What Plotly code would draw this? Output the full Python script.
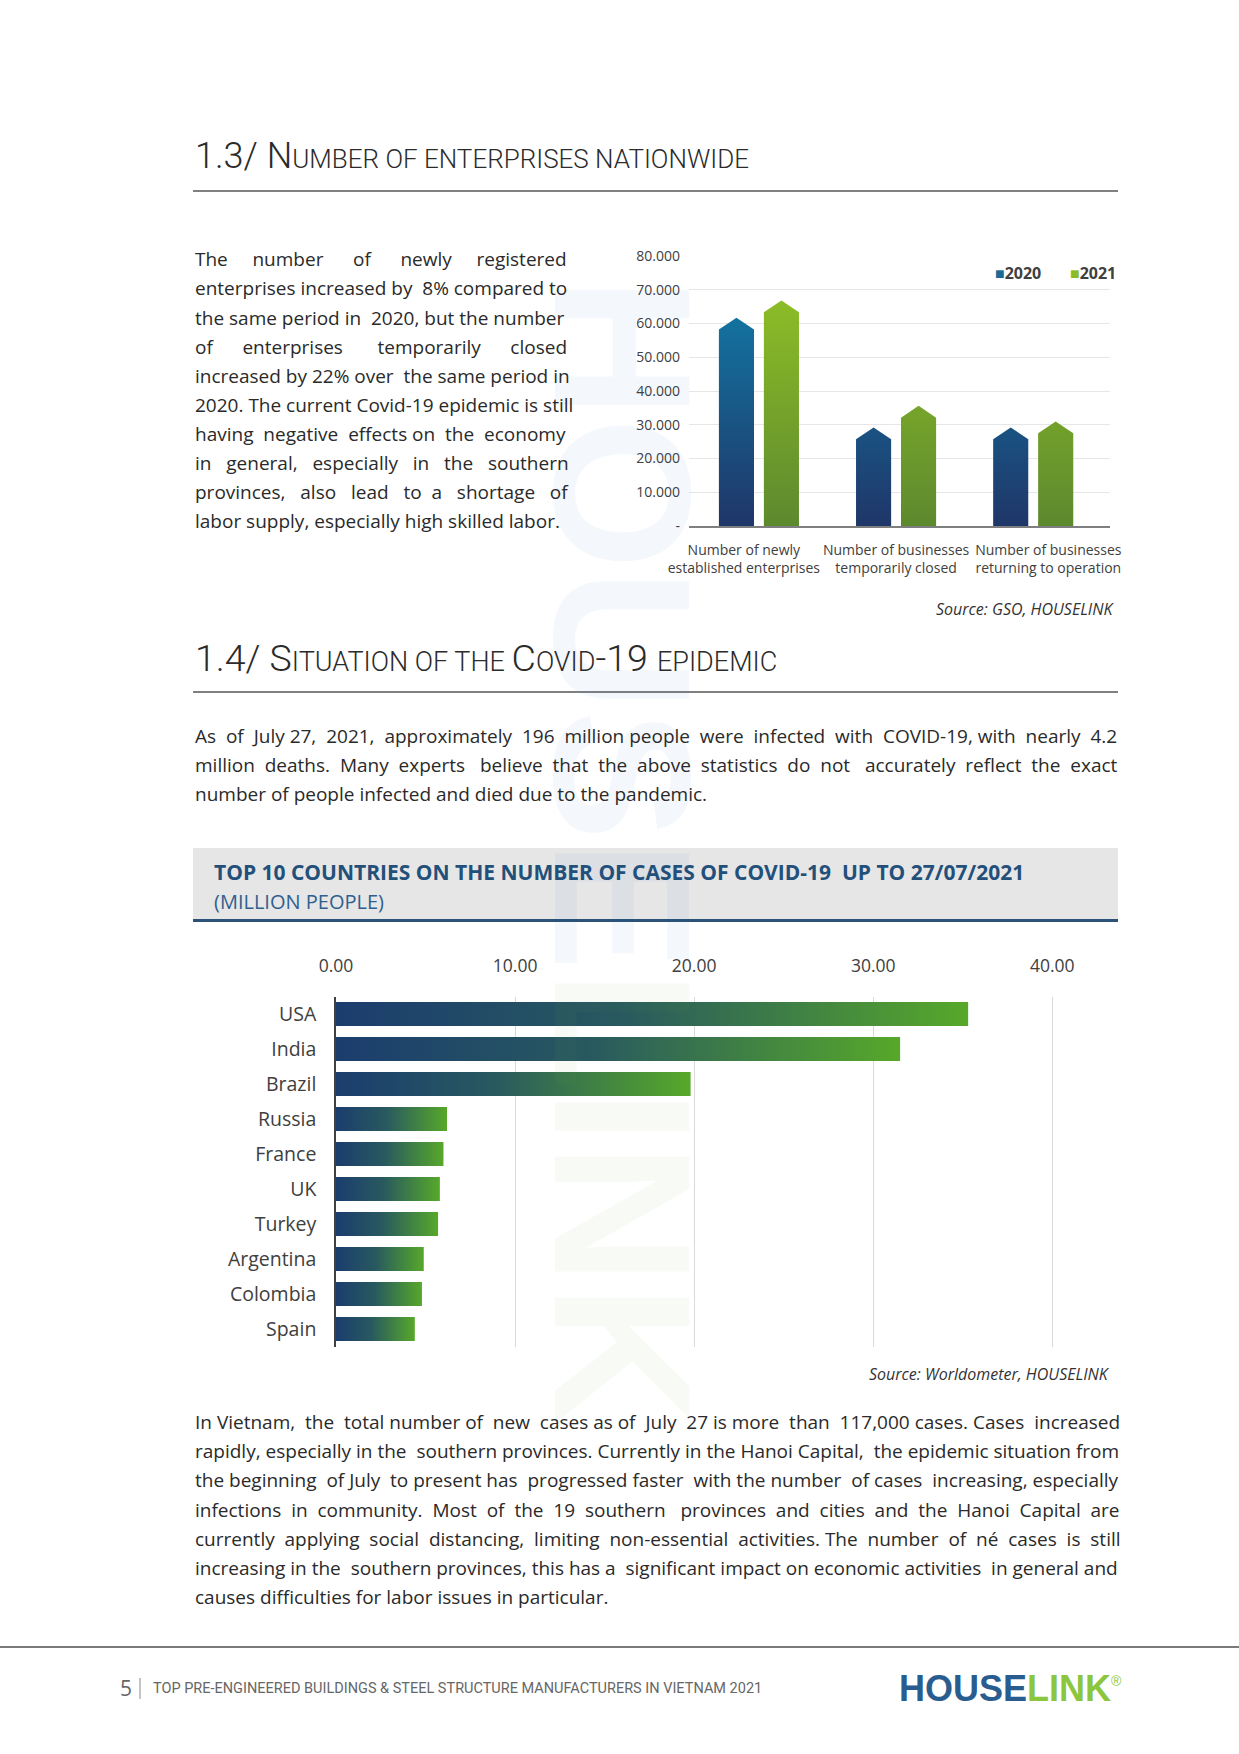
import plotly.graph_objects as go

# ---------------- data ----------------
ent_categories = ["Number of newly<br>established enterprises",
                  "Number of businesses<br>temporarily closed",
                  "Number of businesses<br>returning to operation"]
ent_series = ["2020", "2021"]
ent_2020 = [61700, 29200, 29200]
ent_2021 = [66800, 35600, 31000]
ent_ticks = [0, 10000, 20000, 30000, 40000, 50000, 60000, 70000, 80000]

countries = ["USA", "India", "Brazil", "Russia", "France", "UK", "Turkey",
             "Argentina", "Colombia", "Spain"]
cases = [35.3, 31.5, 19.8, 6.2, 6.0, 5.8, 5.7, 4.9, 4.8, 4.4]
case_ticks = [0, 10, 20, 30, 40]

para1 = ["The number of newly registered",
         "enterprises increased by 8% compared to",
         "the same period in 2020, but the number",
         "of enterprises temporarily closed",
         "increased by 22% over the same period in",
         "2020. The current Covid-19 epidemic is still",
         "having negative effects on the economy",
         "in general, especially in the southern",
         "provinces, also lead to a shortage of",
         "labor supply, especially high skilled labor."]
para2 = ["As of July 27, 2021, approximately 196 million people were infected with COVID-19, with nearly 4.2",
         "million deaths. Many experts believe that the above statistics do not accurately reflect the exact",
         "number of people infected and died due to the pandemic."]
para3 = ["In Vietnam, the total number of new cases as of July 27 is more than 117,000 cases. Cases increased",
         "rapidly, especially in the southern provinces. Currently in the Hanoi Capital, the epidemic situation from",
         "the beginning of July to present has progressed faster with the number of cases increasing, especially",
         "infections in community. Most of the 19 southern provinces and cities and the Hanoi Capital are",
         "currently applying social distancing, limiting non-essential activities. The number of né cases is still",
         "increasing in the southern provinces, this has a significant impact on economic activities in general and",
         "causes difficulties for labor issues in particular."]

# extra spaces per line (to imitate justified text)
para1_pad = [18, 1, 1, 16, 1, 0, 4, 10, 11, 0]
para2_pad = [12, 16, 0]
para3_pad = [9, 2, 6, 16, 12, 3, 0]

# ---------------- helpers ----------------
W, H = 1239, 1754
def px(x): return x / W
def py(y): return 1 - y / H

def spread(line, extra):
    words = line.split(" ")
    gaps = len(words) - 1
    if not extra or gaps == 0:
        return line
    out = words[0]
    given = 0
    for g in range(gaps):
        target = round(extra * (g + 1) / gaps)
        n = target - given
        given = target
        out += " " + "\u00a0" * n + words[g + 1]
    return out

BODY = "Open Sans"
HEAD = "Roboto"
TXT = "#2a2a2a"

fig = go.Figure()

# ---------------- chart 1: arrow-topped gradient columns ----------------
offsets = [-0.164, 0.164]
half_w = 0.128
tip_h = 3500
grads = [[[0, "#1f3668"], [1, "#13729f"]],
         [[0, "#5d892e"], [1, "#8cbc27"]]]
for s_idx, vals in enumerate([ent_2020, ent_2021]):
    xs, ys = [], []
    for i, v in enumerate(vals):
        xc = i + offsets[s_idx]
        xs += [xc - half_w, xc - half_w, xc, xc + half_w, xc + half_w, xc - half_w, None]
        ys += [0, v - tip_h, v, v - tip_h, 0, 0, None]
    fig.add_trace(go.Scatter(
        x=xs, y=ys, mode="lines", fill="toself", line=dict(width=0),
        fillgradient=dict(type="vertical", colorscale=grads[s_idx],
                          start=0, stop=max(vals)),
        name=ent_series[s_idx], hoverinfo="skip", xaxis="x", yaxis="y"))

# ---------------- chart 2: horizontal gradient bars ----------------
bar_half = 0.343
for i, (c, v) in enumerate(zip(countries, cases)):
    fig.add_trace(go.Scatter(
        x=[0, 0, v, v, 0], y=[i - bar_half, i + bar_half, i + bar_half, i - bar_half, i - bar_half],
        mode="lines", fill="toself", line=dict(width=0),
        fillgradient=dict(type="horizontal",
                          colorscale=[[0, "#1b3d6e"], [0.45, "#28595f"], [1, "#57a82a"]]),
        name=c, hoverinfo="skip", xaxis="x2", yaxis="y2"))

ent_ticktext = ["-" if t == 0 else f"{t:,}".replace(",", ".") for t in ent_ticks]
label_spread = 1.11
mid = (len(ent_categories) - 1) / 2
ent_tickpos = [mid + (i - mid) * label_spread for i in range(len(ent_categories))]

fig.update_layout(
    width=W, height=H, margin=dict(l=0, r=0, t=0, b=0, pad=0, autoexpand=False),
    autosize=False,
    paper_bgcolor="white", plot_bgcolor="rgba(0,0,0,0)", showlegend=False,
    font=dict(family=BODY, color="#404040"),
    xaxis=dict(domain=[px(689), px(1110)], range=[-0.51, 2.56], anchor="y",
               tickvals=ent_tickpos, ticktext=ent_categories,
               showgrid=False, zeroline=False, showline=True, linecolor="#7f7f7f",
               linewidth=2, ticks="", ticklabelstandoff=10, tickangle=0, automargin=False,
               tickfont=dict(size=14, color="#404040")),
    yaxis=dict(domain=[py(526), py(256)], range=[0, 80000], anchor="x",
               tickvals=ent_ticks, ticktext=ent_ticktext,
               showgrid=True, gridcolor="#e6e6e6", gridwidth=1, zeroline=False,
               showline=False, ticks="", ticklabelstandoff=8, automargin=False,
               tickfont=dict(size=14, color="#404040")),
    xaxis2=dict(domain=[px(336), px(1115)], range=[0, 43.5], anchor="y2", side="top",
                tickvals=case_ticks, tickformat=".2f",
                showgrid=True, gridcolor="#d9d9d9", gridwidth=1, zeroline=False,
                showline=False, ticks="", ticklabelstandoff=20, automargin=False,
                tickangle=0, tickfont=dict(size=17.5, color="#404040")),
    yaxis2=dict(domain=[py(1346.5), py(996.5)], range=[len(countries) - 0.5, -0.5],
                anchor="x2", tickvals=list(range(len(countries))), ticktext=countries,
                showgrid=False, zeroline=False, showline=True, linecolor="#404040",
                linewidth=1.5, ticks="", ticklabelstandoff=14, automargin=False,
                tickfont=dict(size=19.5, color="#404040")),
)

shapes = []
for yy in (191, 692):
    shapes.append(dict(type="line", xref="paper", yref="paper", x0=px(193), x1=px(1118),
                       y0=py(yy), y1=py(yy), line=dict(color="#808080", width=2)))
shapes.append(dict(type="rect", xref="paper", yref="paper", x0=px(193), x1=px(1118),
                   y0=py(919), y1=py(848), fillcolor="#e6e6e6", line=dict(width=0), layer="below"))
shapes.append(dict(type="line", xref="paper", yref="paper", x0=px(193), x1=px(1118),
                   y0=py(920.5), y1=py(920.5), line=dict(color="#2b5379", width=3)))
shapes.append(dict(type="line", xref="paper", yref="paper", x0=0, x1=1,
                   y0=py(1647), y1=py(1647), line=dict(color="#7a7a7a", width=2)))
shapes.append(dict(type="line", xref="paper", yref="paper", x0=px(140), x1=px(140),
                   y0=py(1678), y1=py(1699), line=dict(color="#8a8a8a", width=1)))
fig.update_layout(shapes=shapes)

ann = []
def add_text(text, x, y, size, color=TXT, family=BODY, xanchor="left", weight=None, **kw):
    f = dict(size=size, color=color, family=family)
    if weight:
        f["weight"] = weight
    ann.append(dict(text=text, x=px(x), y=py(y), xref="paper", yref="paper",
                    xanchor=xanchor, yanchor="middle", showarrow=False, font=f, **kw))

# watermark
add_text("<b><span style='color:rgba(40,100,170,0.05)'>HOUSE</span>"
         "<span style='color:rgba(120,180,60,0.05)'>LINK</span></b>",
         623, 851, 195, family="Liberation Sans, Arial, sans-serif",
         xanchor="center", textangle=90)

# headings
SM = "<span style='font-size:26px'>"
add_text("1.3/ N" + SM + "UMBER OF ENTERPRISES NATIONWIDE</span>", 193, 156, 36,
         color="#2b2b2b", family=HEAD, weight=300)
SM2 = "<span style='font-size:27px'>"
add_text("1.4/ S" + SM2 + "ITUATION OF THE </span>C" + SM2 + "OVID</span>-19 " + SM2 + "EPIDEMIC</span>",
         193, 658, 37.5, color="#2b2b2b", family=HEAD, weight=300)

# paragraphs
for i, line in enumerate(para1):
    add_text(spread(line, para1_pad[i]), 193, 259.4 + i * 29.07, 19)
for i, line in enumerate(para2):
    add_text(spread(line, para2_pad[i]), 193, 735.8 + i * 29.07, 19)
for i, line in enumerate(para3):
    add_text(spread(line, para3_pad[i]), 193, 1422.3 + i * 29.07, 19)

# chart 1 legend
add_text("<span style='color:#1a6a94'>■</span><b>2020</b>", 993, 273, 16, color="#404040")
add_text("<span style='color:#8cbb26'>■</span><b>2021</b>", 1068, 273, 16, color="#404040")

# sources
add_text("<i>Source: GSO, HOUSELINK</i>", 1116, 609, 16, color="#333333", xanchor="right")
add_text("<i>Source: Worldometer, HOUSELINK</i>", 1112, 1374, 16, color="#333333", xanchor="right")

# chart 2 header
add_text("<b>TOP 10 COUNTRIES ON THE NUMBER OF CASES OF COVID-19  UP TO 27/07/2021</b>",
         212, 872, 21, color="#23507a")
add_text("(MILLION PEOPLE)", 212, 901, 20, color="#2f5f8f")

# footer
add_text("5", 126, 1688, 21, color="#666666", xanchor="center")
add_text("TOP PRE-ENGINEERED BUILDINGS &amp; STEEL STRUCTURE MANUFACTURERS IN VIETNAM 2021",
         151, 1688, 14.5, color="#666666", family=HEAD)
add_text("<b><span style='color:#2a5d8f'>HOUSE</span><span style='color:#8cc63f'>LINK</span></b>"
         "<sup><span style='color:#8cc63f;font-size:14px'>®</span></sup>",
         1124, 1688, 36, family="Liberation Sans, Arial, sans-serif", xanchor="right")

fig.update_layout(annotations=ann)
fig.write_html("out.html")
